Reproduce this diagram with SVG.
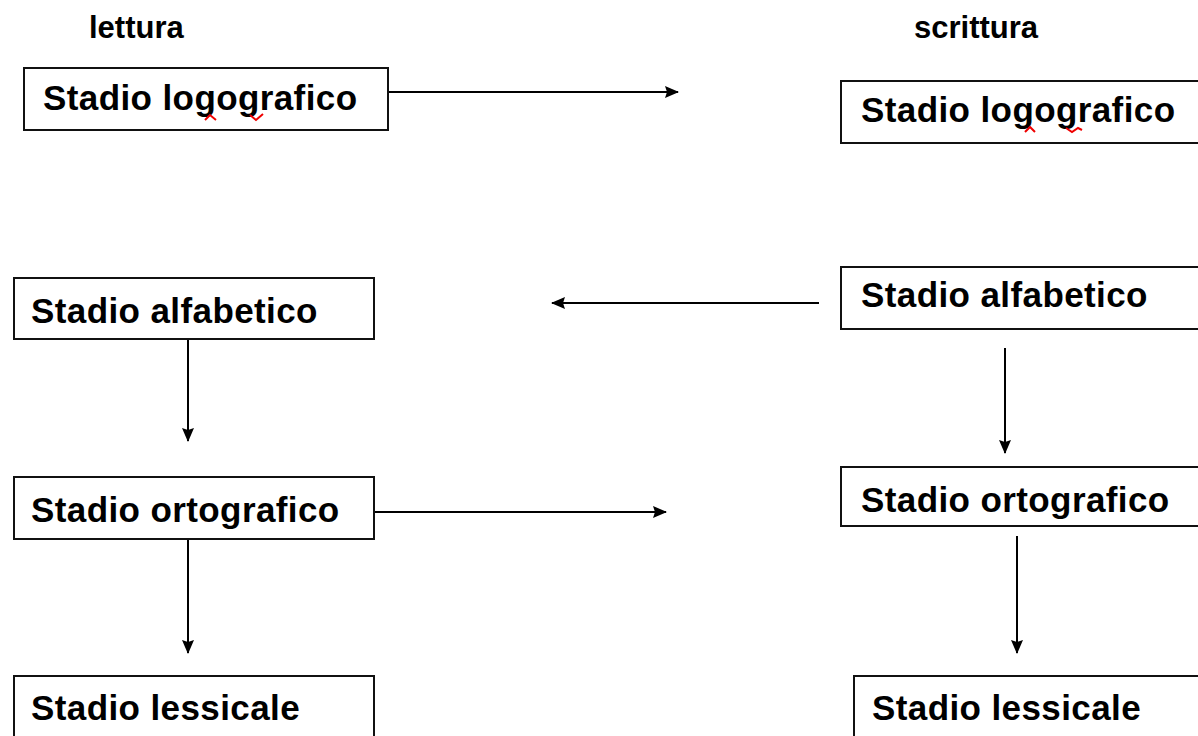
<svg xmlns="http://www.w3.org/2000/svg" width="1198" height="736" viewBox="0 0 1198 736">
<style>
.box{fill:#fff;stroke:#111;stroke-width:2}
.t{font-family:"Liberation Sans",Arial,sans-serif;font-weight:bold;font-size:35px;letter-spacing:0.4px;fill:#000}
.h{font-family:"Liberation Sans",Arial,sans-serif;font-weight:bold;font-size:31px;fill:#000}
.c{stroke:#000;stroke-width:2;fill:none;marker-end:url(#ah)}
.sq{stroke:#e00;stroke-width:2;fill:none}
</style>
<defs>
<marker id="ah" markerWidth="14" markerHeight="12" refX="13" refY="6" orient="auto" markerUnits="userSpaceOnUse">
<path d="M0,0 L14,6 L0,12 L2,6 Z" fill="#000"/>
</marker>
</defs>
<rect width="1198" height="736" fill="#fff"/>
<text class="h" x="89" y="38">lettura</text>
<text class="h" x="914" y="38">scrittura</text>
<g id="connectors">
<line class="c" x1="389" y1="92" x2="678" y2="92"/>
<line class="c" x1="819" y1="303" x2="552" y2="303"/>
<line class="c" x1="188" y1="337" x2="188" y2="441"/>
<line class="c" x1="1005" y1="348" x2="1005" y2="453"/>
<line class="c" x1="375" y1="512" x2="666" y2="512"/>
<line class="c" x1="188" y1="536" x2="188" y2="653"/>
<line class="c" x1="1017" y1="536" x2="1017" y2="653"/>
</g>
<g id="l-logo">
<rect class="box" x="24" y="68" width="364" height="62"/>
<text class="t" x="43" y="110">Stadio logografico</text>
<path class="sq" d="M205,120 L210,115 L216,120"/>
<path class="sq" d="M250,115 L256,120 L263,114"/>
</g>
<g id="r-logo">
<rect class="box" x="841" y="81" width="370" height="62"/>
<text class="t" x="861" y="122">Stadio logografico</text>
<path class="sq" d="M1025,132 L1030,127 L1035,132"/>
<path class="sq" d="M1066,128 L1072,132 L1078,128 L1082,130"/>
</g>
<g id="l-alfa">
<rect class="box" x="14" y="278" width="360" height="61"/>
<text class="t" x="31" y="323">Stadio alfabetico</text>
</g>
<g id="r-alfa">
<rect class="box" x="841" y="267" width="370" height="62"/>
<text class="t" x="861" y="307">Stadio alfabetico</text>
</g>
<g id="l-orto">
<rect class="box" x="14" y="477" width="360" height="62"/>
<text class="t" x="31" y="522">Stadio ortografico</text>
</g>
<g id="r-orto">
<rect class="box" x="841" y="467" width="370" height="59"/>
<text class="t" x="861" y="512">Stadio ortografico</text>
</g>
<g id="l-less">
<rect class="box" x="14" y="676" width="360" height="80"/>
<text class="t" x="31" y="720">Stadio lessicale</text>
</g>
<g id="r-less">
<rect class="box" x="854" y="676" width="360" height="80"/>
<text class="t" x="872" y="720">Stadio lessicale</text>
</g>
</svg>
